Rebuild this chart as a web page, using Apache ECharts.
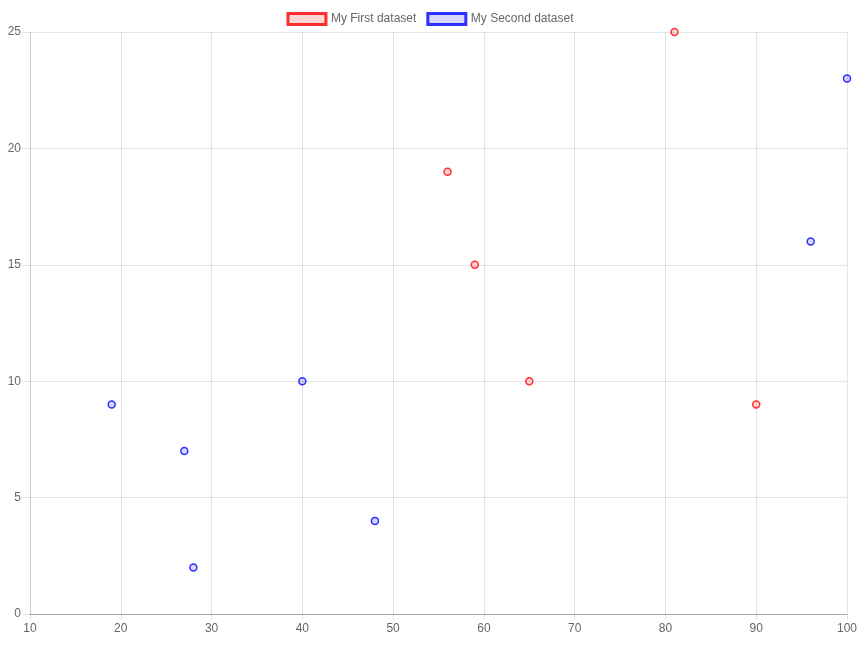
<!DOCTYPE html>
<html>
<head>
<meta charset="utf-8">
<script src="https://cdn.jsdelivr.net/npm/echarts@6/dist/echarts.min.js"></script>
<style>
  html, body { margin: 0; padding: 0; background: #fff; }
  #chart { width: 860px; height: 645px; }
</style>
</head>
<body>
<div id="chart"></div>
<script>
// Données : [x, y]
const firstData = [[56, 19], [59, 15], [65, 10], [81, 25], [90, 9]];
const secondData = [[19, 9], [27, 7], [28, 2], [40, 10], [48, 4], [96, 16], [100, 23]];
const seriesNames = ['My First dataset', 'My Second dataset'];

const gridColor = 'rgba(0,0,0,0.1)';
const labelStyle = { color: '#666', fontSize: 12, fontFamily: 'Liberation Sans, Arial, sans-serif' };

function scatter(name, data, color, fill) {
  return {
    name,
    type: 'scatter',
    data,
    symbol: 'circle',
    symbolSize: 7,
    itemStyle: { color: fill, borderColor: color, borderWidth: 1.5 },
    emphasis: { disabled: true },
  };
}

const chart = echarts.init(document.getElementById('chart'), null, { renderer: 'canvas' });
chart.setOption({
  animation: false,
  backgroundColor: '#fff',
  legend: {
    top: 7,
    left: 'center',
    icon: 'rect',
    itemWidth: 38,
    itemHeight: 11,
    itemGap: 10,
    textStyle: labelStyle,
    data: [
      { name: seriesNames[0], itemStyle: { color: 'rgba(255,0,0,0.2)', borderColor: 'red', borderWidth: 3 } },
      { name: seriesNames[1], itemStyle: { color: 'rgba(0,0,255,0.2)', borderColor: 'blue', borderWidth: 3 } },
    ],
  },
  grid: { left: 30, right: 13, top: 32, bottom: 31, containLabel: false },
  xAxis: {
    type: 'value', min: 10, max: 100, interval: 10,
    axisLine: { show: true, onZero: false, lineStyle: { color: 'rgba(0,0,0,0.25)' } },
    axisTick: { show: true, length: 6, lineStyle: { color: gridColor } },
    axisLabel: { ...labelStyle, margin: 9 },
    splitLine: { show: true, lineStyle: { color: gridColor } },
  },
  yAxis: {
    type: 'value', min: 0, max: 25, interval: 5,
    axisLine: { show: true, lineStyle: { color: gridColor } },
    axisTick: { show: true, length: 8, lineStyle: { color: gridColor } },
    axisLabel: { ...labelStyle, margin: 9 },
    splitLine: { show: true, lineStyle: { color: gridColor } },
  },
  series: [
    scatter(seriesNames[0], firstData, 'red', 'rgba(255,0,0,0.2)'),
    scatter(seriesNames[1], secondData, 'blue', 'rgba(0,0,255,0.2)'),
  ],
});
</script>
</body>
</html>
